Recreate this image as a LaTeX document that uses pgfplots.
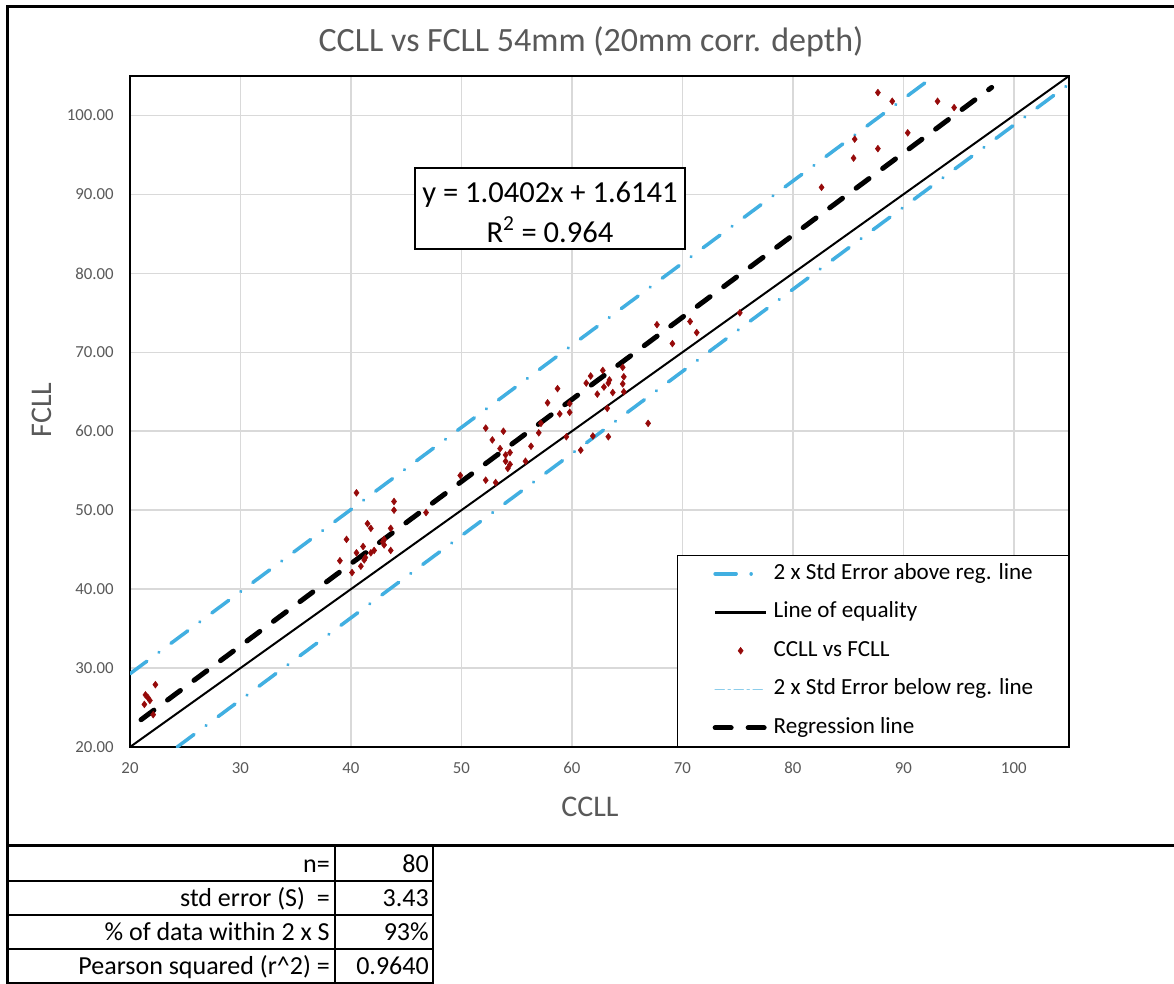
\documentclass[border=0pt]{standalone}
\usepackage{fontspec}
\setmainfont{Carlito}
\usepackage{pgfplots}
\pgfplotsset{compat=1.18}
\newlength\px \setlength\px{0.75pt}
\definecolor{sebl}{RGB}{65,175,225}
\definecolor{sebllight}{RGB}{140,205,235}
\definecolor{ptred}{RGB}{150,10,10}
\definecolor{gridc}{RGB}{217,217,217}
\definecolor{txtg}{RGB}{89,89,89}

\pgfplotstableread{
x y
21.4 26.6
21.6 26.3
21.8 25.9
21.3 25.4
22.3 27.9
22.1 24.1
39.0 43.6
39.6 46.3
40.1 42.1
40.5 52.2
40.5 44.6
40.9 42.9
41.1 45.4
41.2 43.7
41.3 44.0
41.5 48.3
41.8 47.7
41.8 44.6
42.1 44.9
42.9 46.0
43.0 45.6
43.0 46.3
43.6 47.7
43.6 44.9
43.9 51.1
43.9 50.0
46.8 49.7
49.9 54.4
52.2 60.4
52.8 58.9
53.8 60.0
53.5 57.8
54.4 57.3
54.0 56.2
54.0 57.0
54.4 55.8
54.2 55.3
52.2 53.8
53.1 53.5
55.8 56.2
56.3 58.1
57.0 59.8
57.2 61.0
57.8 63.6
58.7 65.4
58.9 62.2
59.8 63.5
59.8 62.4
59.5 59.3
60.8 57.6
61.3 66.1
61.7 67.0
62.3 64.7
62.8 67.7
62.9 65.6
63.4 66.5
63.3 66.1
63.7 64.9
64.6 68.1
64.7 66.9
64.6 66.0
64.7 65.0
63.2 62.9
61.9 59.4
63.3 59.3
66.9 61.0
67.7 73.5
70.7 73.9
71.3 72.5
69.1 71.1
75.2 75.0
82.6 90.9
85.5 94.6
85.6 97.0
87.7 95.8
87.7 102.9
89.0 101.8
90.4 97.8
93.1 101.8
94.6 101.0
}\pts

\begin{document}
\begin{tikzpicture}
\path[use as bounding box] (0,0) rectangle (1174\px,-983\px);
\fill[white] (0,0) rectangle (1174\px,-983\px);

\begin{axis}[
  at={(130\px,-747\px)}, anchor=south west,
  scale only axis, width=939\px, height=671\px,
  xmin=20, xmax=105, ymin=20, ymax=105,
  xtick={20,30,...,100}, ytick={20,30,...,100},
  grid=major,
  major grid style={draw=gridc, line width=1.5\px},
  axis line style={line width=2\px},
  major tick length=0pt,
  tick style={draw=none},
  /pgf/number format/assume math mode=true,
  ticklabel style={font=\fontsize{12.6}{15}\selectfont, text=txtg, inner sep=0pt},
  xticklabel style={anchor=center, yshift=-21\px},
  yticklabel style={anchor=east, xshift=-16\px},
  y tick label style={/pgf/number format/fixed, /pgf/number format/fixed zerofill, /pgf/number format/precision=2},
  legend style={at={(1,0)}, anchor=south east, draw=black, line width=1.5\px,
    font=\fontsize{17.3}{20}\selectfont, inner xsep=35\px, inner ysep=8\px,
    row sep=17.5\px, column sep=5\px,
    nodes={inner sep=0pt, text height=16\px, text depth=5\px}},
  legend cell align=left,
  legend image code/.code={\draw[mark repeat=2,mark phase=2,#1] plot coordinates {(0\px,0\px)(25.5\px,0\px)(51\px,0\px)};},
]
\addplot[draw=sebl, line width=3.5\px, line cap=round, dash pattern=on 21\px off 15\px on 0.01\px off 15\px]
  coordinates {(20,29.278) (105,117.695)};
\addlegendentry{2 x Std Error above reg. line}
\addplot[black, line width=2\px,
  legend image code/.code={\draw[black, line width=3.5\px] (0\px,0\px) -- (51\px,0\px);}]
  coordinates {(20,20) (105,105)};
\addlegendentry{Line of equality}
\addplot[only marks, mark=diamond*, mark size=3.4\px, draw=ptred, fill=ptred, line width=0.5\px] table {\pts};
\addlegendentry{CCLL vs FCLL}
\addplot[draw=sebl, line width=3.5\px, line cap=round, dash pattern=on 21\px off 15\px on 0.01\px off 15\px,
  legend image code/.code={\draw[sebllight, line width=1.5\px, dash pattern=on 9\px off 4\px on 2\px off 4\px] (0\px,0\px) -- (51\px,0\px);}]
  coordinates {(24.27,20) (105,103.975)};
\addlegendentry{2 x Std Error below reg. line}
\addplot[black, line width=5\px, line cap=round, dash pattern=on 16\px off 17\px]
  coordinates {(21,23.458) (98,103.554)};
\addlegendentry{Regression line}
\end{axis}

% equation box
\draw[line width=1.5\px, fill=white] (415\px,-168\px) rectangle (685\px,-249\px);
\node[font=\fontsize{22.9}{26}\selectfont] at (550\px,-195\px) {y = 1.0402x + 1.6141};
\node[font=\fontsize{22.9}{26}\selectfont] at (550\px,-230\px) {R\textsuperscript{2} = 0.964};

% titles
\node[font=\fontsize{25.5}{30}\selectfont, text=txtg] at (591\px,-42\px) {CCLL vs FCLL 54mm (20mm corr. depth)};
\node[font=\fontsize{22.5}{26}\selectfont, text=txtg] at (590\px,-807\px) {CCLL};
\node[font=\fontsize{22.5}{26}\selectfont, text=txtg, rotate=90] at (42\px,-410\px) {FCLL};

% chart frame
\draw[line width=3\px] (1200\px,-6\px) -- (7\px,-6\px) -- (7\px,-990\px);
\draw[line width=3\px] (7\px,-845\px) -- (1200\px,-845\px);

% table
\draw[line width=1.3\px] (335\px,-845\px) -- (335\px,-990\px);
\draw[line width=1.3\px] (433\px,-845\px) -- (433\px,-990\px);
\foreach \yy in {881,915,949,983} {\draw[line width=1.3\px] (7\px,-\yy\px) -- (433\px,-\yy\px);}
\begin{scope}[every node/.style={font=\fontsize{19.5}{23}\selectfont, inner sep=0pt}]
\node[anchor=base east] at (330\px,-872\px) {n=};
\node[anchor=base east] at (429\px,-872\px) {80};
\node[anchor=base east] at (330\px,-906\px) {std error (S)\ \ =};
\node[anchor=base east] at (429\px,-906\px) {3.43};
\node[anchor=base east] at (330\px,-940\px) {\% of data within 2 x S};
\node[anchor=base east] at (429\px,-940\px) {93\%};
\node[anchor=base east] at (330\px,-974\px) {Pearson squared (r\^{}2) =};
\node[anchor=base east] at (429\px,-974\px) {0.9640};
\end{scope}
\end{tikzpicture}
\end{document}
